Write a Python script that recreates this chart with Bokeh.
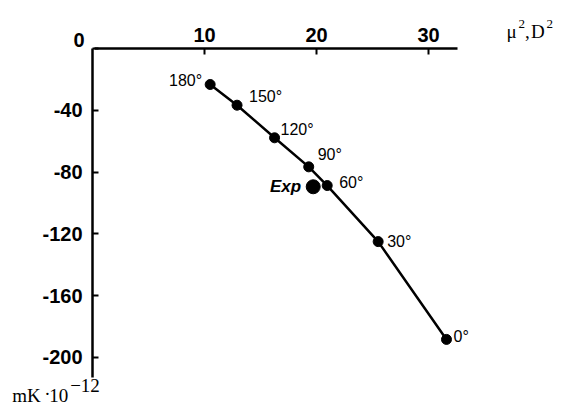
from bokeh.plotting import figure
from bokeh.models import Range1d, ColumnDataSource, FixedTicker
from bokeh.core.properties import value
from bokeh.embed import file_html
from bokeh.resources import INLINE

# data
angles = ["180°", "150°", "120°", "90°", "60°", "30°", "0°"]
mu2 = [10.5, 12.9, 16.25, 19.3, 20.95, 25.5, 31.6]
k_vals = [-23.3, -36.7, -57.8, -76.6, -88.7, -125.0, -188.3]
exp_mu2 = [19.7]
exp_k = [-89.5]
exp_label = ["Exp"]
x_ticks = [10, 20, 30]
y_ticks = [0, -40, -80, -120, -160, -200]
x_title_parts = ["μ", "2", ",", "D", "2"]
y_title_parts = ["mK", "·", "10", "−12"]

# label placement (screen offsets, styling only)
lab_dx = [-8, 12, 6, 9, 12, 9, 7]
lab_dy = [-4, -9, -8, -12, -3, 0, -3]
lab_align = ["right", "left", "left", "left", "left", "left", "left"]
xt_dx = [0, 12, 18.5, 24.5, 40]
xt_dy = [0, -7.5, 0, 0, -7.5]
xt_fs = ["19px", "13px", "19px", "19px", "13px"]
yt_dx = [0, 32, 37, 58]
yt_dy = [0, -2, 0, -10]

p = figure(width=560, height=405, output_backend="svg", toolbar_location=None,
           x_range=Range1d(-8.22, 41.78), y_range=Range1d(-231.07, 31.07),
           x_axis_location="above", min_border=0)
p.outline_line_color = None
p.grid.visible = False
p.background_fill_color = "white"

for ax in (p.xaxis[0], p.yaxis[0]):
    ax.fixed_location = 0
    ax.axis_line_width = 2.5
    ax.axis_line_color = "black"
    ax.major_tick_in = 6
    ax.major_tick_out = 0
    ax.major_tick_line_width = 2
    ax.minor_tick_line_color = None
    ax.major_label_text_font = "Liberation Sans"
    ax.major_label_text_font_style = "bold"
    ax.major_label_text_font_size = "20px"
    ax.major_label_text_color = "black"

p.xaxis.bounds = (0.15, 32.6)
p.yaxis.bounds = (-213, 0)
p.xaxis.ticker = FixedTicker(ticks=x_ticks)
p.yaxis.ticker = FixedTicker(ticks=y_ticks)
overrides = {t: str(t) for t in y_ticks}
overrides[y_ticks[0]] = ""  # the origin label sits higher in the reference; drawn below
p.yaxis.major_label_overrides = overrides
p.xaxis.major_label_standoff = 7
p.yaxis.major_label_standoff = 10

# origin "0" label, raised above the x axis line as in the reference
p.text(x=[0], y=[y_ticks[0]], text=[str(y_ticks[0])], x_offset=-8, y_offset=-8.5,
       text_align="right", text_baseline="middle", text_font=value("Liberation Sans"),
       text_font_style="bold", text_font_size="20px", text_color="black")

src = ColumnDataSource(dict(x=mu2, y=k_vals, t=angles, dx=lab_dx, dy=lab_dy, al=lab_align))
p.line("x", "y", source=src, line_color="black", line_width=2.5)
p.scatter("x", "y", source=src, size=10, color="black")
p.text("x", "y", text="t", source=src, x_offset="dx", y_offset="dy", text_align="al",
       text_baseline="middle", text_font=value("Liberation Sans"),
       text_font_size="16px", text_color="black")

esrc = ColumnDataSource(dict(x=exp_mu2, y=exp_k, t=exp_label))
p.scatter("x", "y", source=esrc, size=14, color="black")
p.text("x", "y", text="t", source=esrc, x_offset=-12, y_offset=0, text_align="right",
       text_baseline="middle", text_font=value("Liberation Sans"),
       text_font_style="bold italic", text_font_size="17px", text_color="black")

# axis titles, anchored in data space beyond the axes
n1 = len(x_title_parts)
t1 = ColumnDataSource(dict(x=[36.96] * n1, y=[11.3] * n1, t=x_title_parts,
                           dx=xt_dx, dy=xt_dy, fs=xt_fs))
p.text("x", "y", text="t", source=t1, x_offset="dx", y_offset="dy", text_font_size="fs",
       text_align="left", text_baseline="alphabetic",
       text_font=value("Liberation Serif"), text_color="black")

n2 = len(y_title_parts)
t2 = ColumnDataSource(dict(x=[-7.18] * n2, y=[-224.3] * n2, t=y_title_parts,
                           dx=yt_dx, dy=yt_dy))
p.text("x", "y", text="t", source=t2, x_offset="dx", y_offset="dy", text_font_size="19px",
       text_align="left", text_baseline="alphabetic",
       text_font=value("Liberation Serif"), text_color="black")

open("out.html", "w").write(file_html(p, INLINE))
